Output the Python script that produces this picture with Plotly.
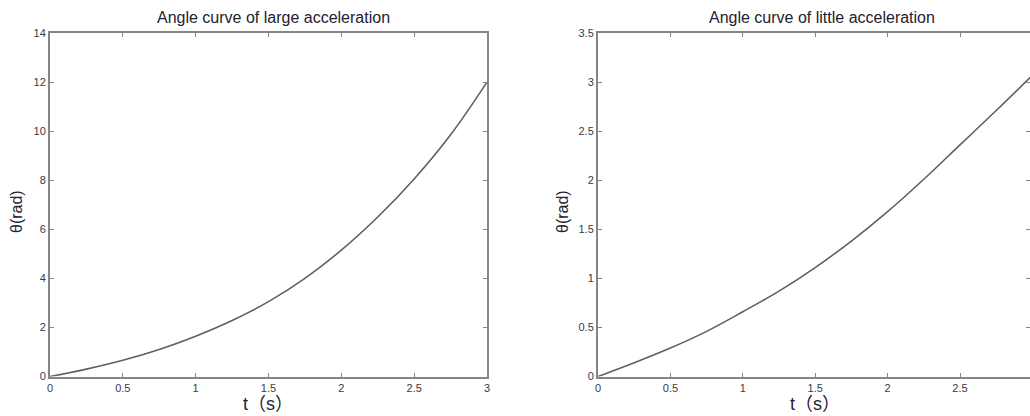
import plotly.graph_objects as go

t = [0, 0.25, 0.5, 0.75, 1.0, 1.25, 1.5, 1.75, 2.0, 2.25, 2.5, 2.75, 3.0]
theta_large = [0, 0.30, 0.66, 1.10, 1.64, 2.28, 3.05, 4.0, 5.15, 6.5, 8.05, 9.85, 12.0]
theta_little = [0, 0.14, 0.29, 0.46, 0.66, 0.87, 1.11, 1.38, 1.68, 2.01, 2.36, 2.71, 3.07]

titles = ["Angle curve of large acceleration", "Angle curve of little acceleration"]
x_ticks = [0, 0.5, 1, 1.5, 2, 2.5, 3]
y_ticks_large = [0, 2, 4, 6, 8, 10, 12, 14]
y_ticks_little = [0, 0.5, 1, 1.5, 2, 2.5, 3, 3.5]
x_label = "t（s）"
y_label = "θ(rad)"

W, H = 1030, 416
FONT = "Liberation Sans, Arial, Noto Sans CJK SC, sans-serif"
LINE = "#606060"
AX = "#858585"
TXT = "#3a3a48"

fig = go.Figure()
fig.add_trace(go.Scatter(x=t, y=theta_large, mode="lines", line=dict(color=LINE, width=1.6, shape="spline"),
                         xaxis="x", yaxis="y", showlegend=False, hoverinfo="skip"))
fig.add_trace(go.Scatter(x=t, y=theta_little, mode="lines", line=dict(color=LINE, width=1.6, shape="spline"),
                         xaxis="x2", yaxis="y2", showlegend=False, hoverinfo="skip"))

ydom = [1 - 376.5 / H, 1 - 33 / H]
x1dom = [50 / W, 487 / W]
x2dom = [598 / W, 1.0]
px_per_unit_right = 144.8
x2max = (W - 598) / px_per_unit_right

common = dict(showgrid=False, zeroline=False, showline=True, linecolor=AX, linewidth=2,
              mirror="ticks", ticks="inside", ticklen=4, tickcolor=AX, tickwidth=1,
              automargin=False,
              tickfont=dict(family=FONT, size=11, color=TXT))

fig.update_layout(
    width=W, height=H, margin=dict(l=0, r=0, t=0, b=0, autoexpand=False),
    paper_bgcolor="white", plot_bgcolor="white",
    xaxis=dict(domain=x1dom, range=[0, 3], tickvals=x_ticks, anchor="y", **common),
    yaxis=dict(domain=ydom, range=[0, 14], tickvals=y_ticks_large, anchor="x", **common),
    xaxis2=dict(domain=x2dom, range=[0, x2max], tickvals=x_ticks, anchor="y2", **common),
    yaxis2=dict(domain=ydom, range=[0, 3.5], tickvals=y_ticks_little,
                ticktext=[str(v) for v in y_ticks_little], anchor="x2", **common),
)

ann = []
title_centers = [273, 822]
xlabel_centers = [268, 815]
for i in range(2):
    ann.append(dict(text=titles[i], x=title_centers[i] / W, y=1 - 18 / H, xref="paper", yref="paper",
                    showarrow=False, font=dict(family=FONT, size=16, color="#222233"),
                    xanchor="center", yanchor="middle"))
    ann.append(dict(text=x_label, x=xlabel_centers[i] / W, y=1 - 415 / H, xref="paper", yref="paper",
                    showarrow=False, font=dict(family=FONT, size=18, color="#222233"),
                    xanchor="center", yanchor="bottom", borderpad=0))
for xp in [16, 562]:
    ann.append(dict(text=y_label, x=xp / W, y=1 - 212 / H, xref="paper", yref="paper", showarrow=False,
                    textangle=-90, font=dict(family=FONT, size=16, color="#222233"),
                    xanchor="center", yanchor="middle"))
fig.update_layout(annotations=ann)

fig.write_html("out.html", config={"displayModeBar": False},
               post_script="document.body.style.margin='0';document.body.style.overflow='hidden';")
